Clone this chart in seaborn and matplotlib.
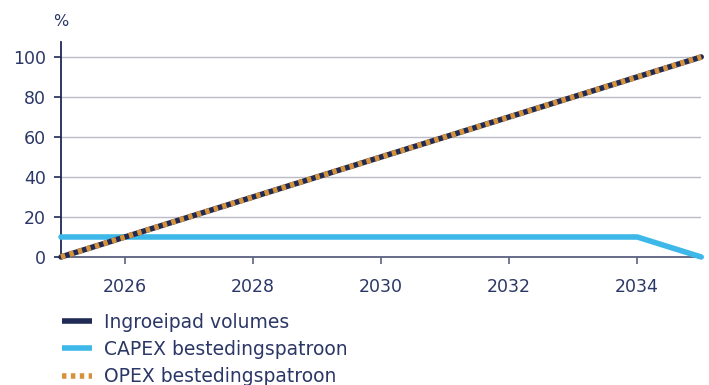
import matplotlib
matplotlib.use("Agg")
import matplotlib.pyplot as plt
import seaborn as sns
import pandas as pd

years = [2025, 2026, 2027, 2028, 2029, 2030, 2031, 2032, 2033, 2034, 2035]
ingroeipad = [0, 10, 20, 30, 40, 50, 60, 70, 80, 90, 100]
capex = [10, 10, 10, 10, 10, 10, 10, 10, 10, 10, 0]
opex = [0, 10, 20, 30, 40, 50, 60, 70, 80, 90, 100]
series_names = ["Ingroeipad volumes", "CAPEX bestedingspatroon", "OPEX bestedingspatroon"]
xticks = [2026, 2028, 2030, 2032, 2034]
yticks = [0, 20, 40, 60, 80, 100]

NAVY = "#1f2a55"
BLUE = "#3db8e8"
ORANGE = "#d5923a"
TXT = "#2b3766"

sns.set_theme(style="white")
plt.rcParams["font.family"] = ["DejaVu Sans"]

fig = plt.figure(figsize=(7.09, 3.85), dpi=100)
ax = fig.add_axes([0.086, 0.3325, 0.903, 0.5585])

df = pd.DataFrame({"year": years, "ing": ingroeipad, "capex": capex, "opex": opex})

LW = 4.0
sns.lineplot(data=df, x="year", y="capex", ax=ax, color=BLUE, linewidth=LW,
             label=series_names[1], clip_on=False, zorder=3)
sns.lineplot(data=df, x="year", y="ing", ax=ax, color=NAVY, linewidth=LW,
             label=series_names[0], clip_on=False, zorder=4)
sns.lineplot(data=df, x="year", y="opex", ax=ax, color=ORANGE, linewidth=LW,
             label=series_names[2], clip_on=False, zorder=5)
ax.lines[-1].set_dashes([0.8, 0.8])
ax.lines[-1].set_dash_capstyle("butt")

ax.set_xlim(2025, 2035)
ax.set_ylim(0, 107.5)
ax.set_xticks(xticks)
ax.set_yticks(yticks)
ax.set_xlabel("")
ax.set_ylabel("")
ax.grid(axis="y", color="#b9bcc6", linewidth=1)
ax.grid(axis="x", visible=False)
for s in ["top", "right"]:
    ax.spines[s].set_visible(False)
ax.spines["left"].set_color(NAVY)
ax.spines["left"].set_linewidth(1.3)
ax.spines["bottom"].set_color("#5a6180")
ax.spines["bottom"].set_linewidth(1.3)
ax.tick_params(axis="y", length=5, width=1.2, color=NAVY, labelcolor=TXT, labelsize=12.5, pad=6, left=True)
ax.tick_params(axis="x", length=5, width=1.2, color="#5a6180", labelcolor=TXT, labelsize=12.5, pad=10, bottom=True)

fig.text(0.085, 0.943, "%", color=TXT, fontsize=11.5, ha="center", va="center")

handles, labels = ax.get_legend_handles_labels()
order = [labels.index(n) for n in series_names]
leg = ax.legend([handles[i] for i in order], [labels[i] for i in order],
                loc="upper left", bbox_to_anchor=(0.0875, 0.188), bbox_transform=fig.transFigure,
                frameon=False, fontsize=13.5, handlelength=1.6, handletextpad=0.64,
                labelspacing=0.44, borderpad=0, borderaxespad=0)
for t in leg.get_texts():
    t.set_color(TXT)
for h in leg.get_lines():
    h.set_linewidth(LW)
    h.set_solid_capstyle("butt")
    h.set_dash_capstyle("butt")

fig.savefig("out.png", dpi=100)
